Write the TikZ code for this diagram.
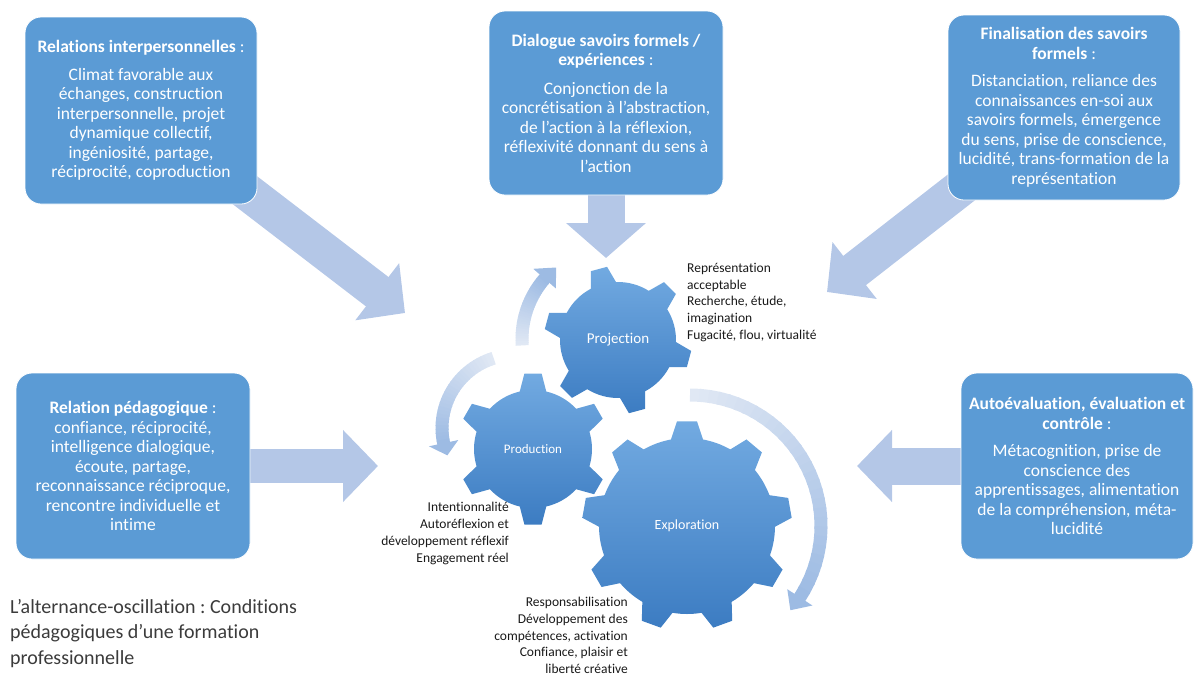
\documentclass[tikz,border=0pt]{standalone}
\usepackage{fontspec}
\setmainfont{Carlito}[Ligatures={NoCommon,NoContextual}]
\usetikzlibrary{calc,arrows.meta,backgrounds}
\definecolor{boxblue}{RGB}{91,155,213}
\definecolor{arrowblue}{RGB}{180,199,231}
\definecolor{geartop}{RGB}{114,170,225}
\definecolor{gearbot}{RGB}{60,124,194}
\definecolor{carclight}{RGB}{224,232,244}
\definecolor{carcdark}{RGB}{157,187,227}
\definecolor{txt}{RGB}{25,25,25}
\newcommand{\drawgear}[8]{%
  \pgfmathsetmacro{\gs}{360/#3}%
  \pgfmathtruncatemacro{\gn}{#3-1}%
  \shade[top color=geartop, bottom color=gearbot] ($(#1,#2)+(#4-#8:#6)$)
    \foreach \k [evaluate=\k as \th using #4+\k*\gs] in {0,...,\gn} {
      -- ($(#1,#2)+(\th-#8:#6)$) -- ($(#1,#2)+(\th-#7:#5)$)
      -- ($(#1,#2)+(\th+#7:#5)$) -- ($(#1,#2)+(\th+#8:#6)$)
      arc[start angle=\th+#8, end angle=\th+\gs-#8, radius=#6]
    } -- cycle;
}
\newcommand{\curvarrow}[6]{%
  \foreach \j [evaluate=\j as \aa using #4+(#5-#4)*\j/30,
               evaluate=\j as \bb using #4+(#5-#4)*(\j+1.25)/30,
               evaluate=\j as \pp using int(100*\j/29)] in {0,...,29} {
    \draw[line width=13pt, carcdark!\pp!carclight] ($(#1,#2)+(\aa:#3)$) arc[start angle=\aa, end angle=\bb, radius=#3];
  }
  \fill[carcdark] ($(#1,#2)+(#5:#3+15)$) -- ($(#1,#2)+(#5:#3-15)$) -- ($(#1,#2)+(#5+#6:#3)$) -- cycle;
}
\tikzset{
  infobox/.style={rounded corners=16pt, fill=boxblue, draw=white, line width=0.8pt,
    text=white, align=center, inner sep=0pt, font=\fontsize{17.5}{19.5}\selectfont},
  blockarrow/.style={draw=arrowblue, line width=37pt, -{Triangle[length=35pt,width=70pt]}},
  gearlabel/.style={text=white, inner sep=0pt},
  sidetext/.style={text=txt, inner sep=0pt, font=\fontsize{13.5}{16.8}\selectfont},
}
\frenchspacing
\begin{document}
\begin{tikzpicture}[x=1pt,y=-1pt]
\useasboundingbox (0,0) rectangle (1194,673);

% boxes
\node[infobox, minimum width=232pt, minimum height=187pt] (b1) at (141,110.5)
  {{\bfseries Relations interpersonnelles} :\\[8pt]Climat favorable aux\\échanges, construction\\interpersonnelle, projet\\dynamique collectif,\\ingéniosité, partage,\\réciprocité, coproduction};
\node[infobox, minimum width=234pt, minimum height=184pt] (b2) at (606,103)
  {{\bfseries Dialogue savoirs formels /}\\{\bfseries expériences} :\\[9pt]Conjonction de la\\concrétisation à l’abstraction,\\de l’action à la réflexion,\\réflexivité donnant du sens à\\l’action};
\node[infobox, minimum width=232pt, minimum height=185pt] (b3) at (1064,107.5)
  {{\bfseries Finalisation des savoirs}\\{\bfseries formels} :\\[8pt]Distanciation, reliance des\\connaissances en-soi aux\\savoirs formels, émergence\\du sens, prise de conscience,\\lucidité, trans-formation de la\\représentation};
\node[infobox, minimum width=234pt, minimum height=186pt] (b4) at (133,466)
  {{\bfseries Relation pédagogique} :\\confiance, réciprocité,\\intelligence dialogique,\\écoute, partage,\\reconnaissance réciproque,\\rencontre individuelle et\\intime};
\node[infobox, minimum width=232pt, minimum height=186pt] (b5) at (1077,466)
  {{\bfseries Autoévaluation, évaluation et}\\{\bfseries contrôle} :\\[8pt]Métacognition, prise de\\conscience des\\apprentissages, alimentation\\de la compréhension, méta-\\lucidité};

% arrow tips
\coordinate (t1) at (405,313);
\coordinate (t2) at (606,258);
\coordinate (t3) at (827,292);
\coordinate (t4) at (378,466);
\coordinate (t5) at (857,466);
\begin{pgfonlayer}{background}
\draw[blockarrow] (b1.center) -- (t1);
\draw[blockarrow, -{Triangle[length=35pt,width=78pt]}] (b2.center) -- (t2);
\draw[blockarrow] (b3.center) -- (t3);
\draw[blockarrow, line width=34pt] (b4.center) -- (t4);
\draw[blockarrow] (b5.center) -- (t5);
\end{pgfonlayer}

% curved arrows
\curvarrow{614}{339}{92}{176}{221}{10}
\curvarrow{515}{428}{73}{253}{168}{-10}
\curvarrow{690}{526}{131}{-90}{33}{7}

% gears
\drawgear{618}{340}{6}{15}{74}{58}{6.5}{13}
\drawgear{533}{449}{6}{30}{76}{59}{6.5}{13}
\drawgear{687}{526}{9}{30}{105}{88}{5.5}{10.5}
\node[gearlabel, font=\fontsize{15}{17}\selectfont] (gp) at (618,340) {Projection};
\node[gearlabel, font=\fontsize{13}{15}\selectfont] (gd) at (533,449) {Production};
\node[gearlabel, font=\fontsize{14}{16}\selectfont] (ge) at (687,526) {Exploration};

% side texts
\node[sidetext, align=left, anchor=west] (sp) at (687,302.5)
  {Représentation\\acceptable\\Recherche, étude,\\imagination\\Fugacité, flou, virtualité};
\node[sidetext, align=right, anchor=east] (sd) at (509,533.5)
  {Intentionnalité\\Autoréflexion et\\développement réflexif\\Engagement réel};
\node[sidetext, align=right, anchor=east] (se) at (628,635.5)
  {Responsabilisation\\Développement des\\compétences, activation\\Confiance, plaisir et\\liberté créative};

% caption
\node[text=txt!85!white, inner sep=0pt, align=left, anchor=west, font=\fontsize{20}{25.5}\selectfont] (cap) at (10,633.5)
  {L’alternance-oscillation : Conditions\\pédagogiques d’une formation\\professionnelle};
\end{tikzpicture}
\end{document}
